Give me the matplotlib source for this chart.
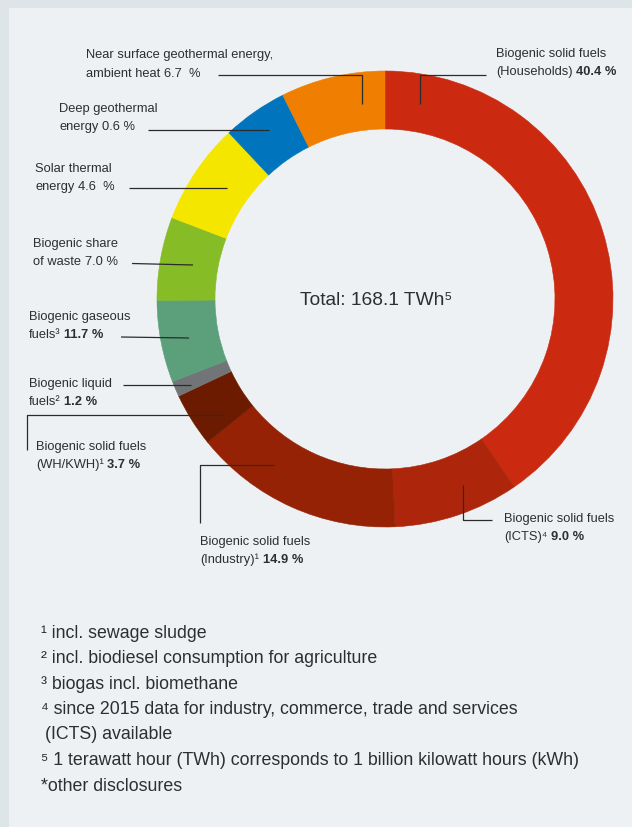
import matplotlib
matplotlib.use('Agg')
import matplotlib.pyplot as plt
from matplotlib.patches import Rectangle

# ring segments, clockwise from 12 o'clock
segments = ['Households', 'ICTS', 'Industry', 'WH/KWH', 'Liquid fuels',
            'Gaseous fuels', 'Share of waste', 'Solar thermal',
            'Deep geothermal', 'Near surface geothermal']
# share of the ring as drawn in the graphic (%)
ring_share = [40.4, 8.9, 14.9, 3.8, 1.1, 5.8, 5.9, 7.2, 4.6, 7.4]
colors = ['#cc2a10', '#ad260b', '#962205', '#6c1b00', '#727577',
          '#5ba07b', '#86bc26', '#f5e600', '#0075bd', '#f07e00']

# label text: first line, second line, percentage, percentage bold?
label_line1 = ['Biogenic solid fuels', 'Biogenic solid fuels', 'Biogenic solid fuels',
               'Biogenic solid fuels', 'Biogenic liquid', 'Biogenic gaseous',
               'Biogenic share', 'Solar thermal', 'Deep geothermal',
               'Near surface geothermal energy,']
label_line2 = ['(Households)', '(ICTS)\u2074', '(Industry)\u00b9', '(WH/KWH)\u00b9',
               'fuels\u00b2', 'fuels\u00b3', 'of waste', 'energy', 'energy', 'ambient heat']
label_pct = ['40.4 %', '9.0 %', '14.9 %', '3.7 %', '1.2 %', '11.7 %',
             '7.0 %', '4.6  %', '0.6 %', '6.7  %']
label_bold = [True, True, True, True, True, True, False, False, False, False]

total_text = 'Total: 168.1 TWh\u2075'

footnotes = ['\u00b9 incl. sewage sludge',
             '\u00b2 incl. biodiesel consumption for agriculture',
             '\u00b3 biogas incl. biomethane',
             '\u2074 since 2015 data for industry, commerce, trade and services',
             '(ICTS) available',
             '\u2075 1 terawatt hour (TWh) corresponds to 1 billion kilowatt hours (kWh)',
             '*other disclosures']

# layout (pixel positions in the 632x827 picture)
label_xy = [(496, 56.7), (504, 521.7), (200, 545), (36, 450), (29, 386.7),
            (29, 320), (33, 246.7), (35, 171.7), (59, 111.7), (86, 58.3)]
leaders = [
    [(486, 74.5), (420, 74.5), (420, 104)],
    [(492, 520), (463, 520), (463, 485)],
    [(200, 523), (200, 465), (274, 465)],
    [(27, 450), (27, 415), (224, 415)],
    [(123, 385), (191, 385)],
    [(121, 337), (189, 338)],
    [(132, 263.5), (193, 265)],
    [(129, 188), (227, 188)],
    [(148, 129.5), (269, 129.5)],
    [(218, 75), (362, 75), (362, 104)],
]
fn_x = [41, 41, 41, 41, 45, 41, 41]
fn_y = [638, 663, 689, 714, 739, 765, 791]

W, H = 632, 827
FONT = ['Liberation Sans', 'DejaVu Sans']
TXT = '#2e2e2e'

fig = plt.figure(figsize=(W / 100, H / 100), dpi=100, facecolor='#dde5e9')
ax = fig.add_axes([0, 0, 1, 1])
ax.add_patch(Rectangle((9, 8), W - 9, H - 8, facecolor='#edf1f4', edgecolor='none', zorder=0))

# donut: y axis is inverted, so counterclock=True runs clockwise on screen
wedges, _ = ax.pie(ring_share, colors=colors, startangle=-90, counterclock=True,
                   radius=228, center=(385, 299),
                   wedgeprops=dict(width=58, linewidth=0.4, zorder=2))
for w in wedges:
    w.set_edgecolor(w.get_facecolor())  # hide antialiasing seams

ax.set_xlim(0, W)
ax.set_ylim(H, 0)
ax.axis('off')

renderer = fig.canvas.get_renderer()


def rich(x, y, parts, size):
    for s, bold in parts:
        t = ax.text(x, y, s, fontsize=size, fontweight='bold' if bold else 'normal',
                    family=FONT, color=TXT, va='baseline', ha='left', zorder=5)
        x += t.get_window_extent(renderer=renderer).width + size * 0.278 * 1.389


LBL = 9.3
for i in range(len(segments)):
    x, y = label_xy[i]
    ax.text(x, y, label_line1[i], fontsize=LBL, family=FONT, color=TXT,
            va='baseline', ha='left', zorder=5)
    rich(x, y + 18.3, [(label_line2[i], False), (label_pct[i], label_bold[i])], LBL)

for pts in leaders:
    xs, ys = zip(*pts)
    ax.plot(xs, ys, color='#2b2b2b', lw=0.9, zorder=4, solid_capstyle='butt')

ax.text(376, 305, total_text, fontsize=13.8, family=FONT, color=TXT,
        ha='center', va='baseline', zorder=5)

for s, x, y in zip(footnotes, fn_x, fn_y):
    ax.text(x, y, s, fontsize=12.8, family=FONT, color=TXT, va='baseline', ha='left')

fig.savefig('out.png', dpi=100, facecolor=fig.get_facecolor())
